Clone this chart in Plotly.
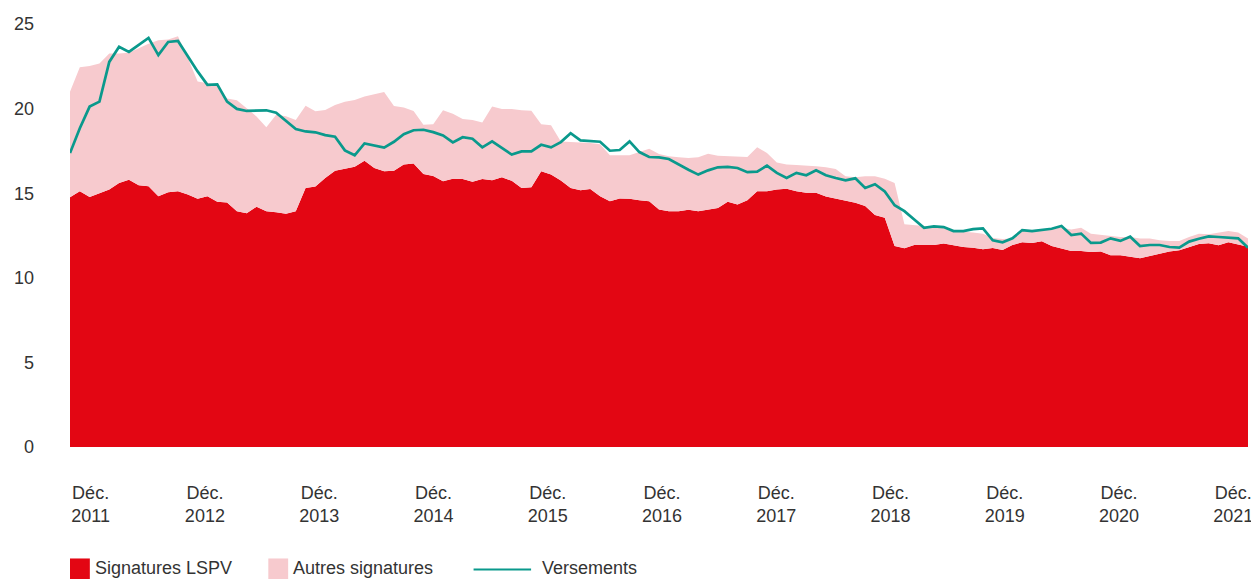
import plotly.graph_objects as go

# Monthly values, Dec 2011 -> Dec 2021 (121 months)
signatures_lspv = [
    14.76, 15.12, 14.78, 15.02, 15.22, 15.61, 15.80, 15.47, 15.41, 14.82,
    15.06, 15.12, 14.92, 14.67, 14.82, 14.49, 14.45, 13.94, 13.82, 14.20,
    13.94, 13.88, 13.78, 13.94, 15.31, 15.39, 15.90, 16.33, 16.45, 16.57,
    16.92, 16.49, 16.29, 16.33, 16.69, 16.75, 16.14, 16.02, 15.71, 15.86,
    15.84, 15.67, 15.84, 15.76, 15.94, 15.73, 15.31, 15.35, 16.29, 16.10,
    15.75, 15.31, 15.18, 15.25, 14.82, 14.53, 14.69, 14.67, 14.59, 14.53,
    14.04, 13.94, 13.94, 14.02, 13.94, 14.04, 14.12, 14.49, 14.33, 14.59,
    15.12, 15.12, 15.22, 15.27, 15.12, 15.02, 15.02, 14.80, 14.67, 14.57,
    14.43, 14.24, 13.71, 13.55, 11.88, 11.75, 11.94, 11.94, 11.94, 12.02,
    11.92, 11.82, 11.78, 11.69, 11.76, 11.65, 11.94, 12.10, 12.06, 12.16,
    11.88, 11.72, 11.59, 11.59, 11.53, 11.55, 11.33, 11.33, 11.25, 11.16,
    11.29, 11.43, 11.55, 11.63, 11.80, 12.00, 12.04, 11.92, 12.10, 11.98,
    11.84,
]

signatures_total = [
    21.00, 22.45, 22.52, 22.67, 23.25, 23.25, 23.30, 23.55, 23.84, 24.04,
    24.08, 24.27, 23.00, 21.60, 21.49, 21.40, 20.60, 20.50, 20.02, 19.53,
    18.90, 19.63, 19.55, 19.33, 20.17, 19.84, 19.92, 20.22, 20.41, 20.51,
    20.71, 20.84, 20.98, 20.16, 20.06, 19.86, 19.04, 19.08, 19.90, 19.70,
    19.39, 19.33, 19.18, 20.12, 19.98, 19.98, 19.90, 19.88, 19.08, 19.02,
    18.06, 18.02, 18.00, 17.96, 17.90, 17.24, 17.24, 17.24, 17.43, 17.63,
    17.31, 17.18, 17.12, 17.08, 17.12, 17.33, 17.22, 17.20, 17.18, 17.14,
    17.72, 17.37, 16.82, 16.69, 16.67, 16.65, 16.59, 16.53, 16.43, 16.00,
    15.94, 16.00, 16.00, 15.86, 15.61, 13.16, 13.12, 13.08, 13.04, 12.96,
    12.76, 12.73, 12.67, 12.61, 12.35, 12.30, 12.33, 12.76, 12.80, 12.84,
    12.90, 12.96, 12.86, 12.96, 12.61, 12.53, 12.47, 12.41, 12.41, 12.33,
    12.33, 12.22, 12.18, 12.18, 12.41, 12.61, 12.57, 12.67, 12.76, 12.67,
    12.33,
]

versements = [
    17.37, 18.84, 20.12, 20.41, 22.76, 23.65, 23.35, 23.75, 24.18, 23.16,
    23.94, 24.00, 23.06, 22.20, 21.40, 21.43, 20.41, 19.98, 19.86, 19.90,
    19.90, 19.76, 19.28, 18.79, 18.65, 18.60, 18.43, 18.34, 17.53, 17.24,
    17.94, 17.82, 17.69, 18.04, 18.49, 18.72, 18.75, 18.61, 18.41, 18.00,
    18.31, 18.22, 17.71, 18.06, 17.67, 17.28, 17.47, 17.47, 17.86, 17.71,
    18.02, 18.55, 18.12, 18.06, 18.04, 17.51, 17.55, 18.06, 17.43, 17.14,
    17.12, 17.02, 16.69, 16.39, 16.10, 16.35, 16.53, 16.55, 16.49, 16.24,
    16.27, 16.63, 16.20, 15.90, 16.20, 16.06, 16.35, 16.06, 15.90, 15.76,
    15.88, 15.31, 15.53, 15.10, 14.29, 13.94, 13.45, 12.96, 13.04, 13.00,
    12.76, 12.76, 12.88, 12.92, 12.22, 12.10, 12.33, 12.82, 12.76, 12.82,
    12.90, 13.06, 12.53, 12.61, 12.06, 12.08, 12.33, 12.18, 12.43, 11.88,
    11.94, 11.94, 11.82, 11.78, 12.14, 12.31, 12.45, 12.41, 12.37, 12.33,
    11.78,
]

years = [2011, 2012, 2013, 2014, 2015, 2016, 2017, 2018, 2019, 2020, 2021]
tick_labels = [f"Déc.<br>{y}" for y in years]
y_ticks = [0, 5, 10, 15, 20, 25]

RED = "#E30613"
PINK = "#F7CACE"
TEAL = "#0A998C"
TEXT = "#333333"
FONT = "Liberation Sans, Arial, sans-serif"

months = list(range(len(signatures_lspv)))
autres = [t - l for t, l in zip(signatures_total, signatures_lspv)]

fig = go.Figure()
fig.add_trace(go.Scatter(
    x=months, y=signatures_lspv, name="Signatures LSPV",
    stackgroup="sig", mode="lines", line=dict(width=0, color=RED),
    fillcolor=RED, showlegend=False,
))
fig.add_trace(go.Scatter(
    x=months, y=autres, name="Autres signatures",
    stackgroup="sig", mode="lines", line=dict(width=0, color=PINK),
    fillcolor=PINK, showlegend=False,
))
fig.add_trace(go.Scatter(
    x=months, y=versements, name="Versements",
    mode="lines", line=dict(width=2.7, color=TEAL), showlegend=False,
))

# label positions along the month axis (evenly spaced yearly labels)
n_lab = len(years)
tick_pos = [2.1 + k * (118.5 - 2.1) / (n_lab - 1) for k in range(n_lab)]

fig.update_xaxes(
    range=[0, len(months) - 1], tickvals=tick_pos, ticktext=tick_labels,
    showgrid=False, zeroline=False, showline=False, ticks="",
    ticklabelstandoff=33, tickfont=dict(size=18, color=TEXT, family=FONT),
)
fig.update_yaxes(
    range=[0, 25], tickvals=y_ticks, showgrid=False, zeroline=False,
    showline=False, ticks="", ticklabelstandoff=35,
    tickfont=dict(size=18, color=TEXT, family=FONT),
)

# Manual legend (below the plot area); coordinates in page pixels
PLOT_LEFT, PLOT_RIGHT, PLOT_TOP, PLOT_BOTTOM = 65, 1253, 22, 447
def py(pix):
    return (PLOT_BOTTOM - pix) / (PLOT_BOTTOM - PLOT_TOP)
def px(pix):
    return (pix - PLOT_LEFT) / (PLOT_RIGHT - PLOT_LEFT)

legend_items = [("Signatures LSPV", RED, 65, "box"),
                ("Autres signatures", PINK, 265, "box"),
                ("Versements", TEAL, 472, "line")]
for label, col, x0, kind in legend_items:
    if kind == "box":
        fig.add_shape(type="rect", xref="paper", yref="paper",
                      x0=px(x0), x1=px(x0 + 20), y0=py(559), y1=py(585),
                      fillcolor=col, line=dict(width=0))
        tx = x0 + 23
    else:
        fig.add_shape(type="line", xref="paper", yref="paper",
                      x0=px(x0), x1=px(x0 + 58), y0=py(570), y1=py(570),
                      line=dict(color=col, width=2))
        tx = x0 + 67
    fig.add_annotation(text=label, xref="paper", yref="paper",
                       x=px(tx), y=py(569), xanchor="left", yanchor="middle",
                       showarrow=False,
                       font=dict(size=18, color=TEXT, family=FONT))

# the page adds an 8px body margin: figure coordinates = page pixels - 8
fig.update_layout(
    width=1251, height=571,
    margin=dict(l=57, r=6, t=14, b=132),
    paper_bgcolor="white", plot_bgcolor="white",
    font=dict(family=FONT, size=18, color=TEXT),
    hovermode=False,
)

fig.write_html("out.html")
